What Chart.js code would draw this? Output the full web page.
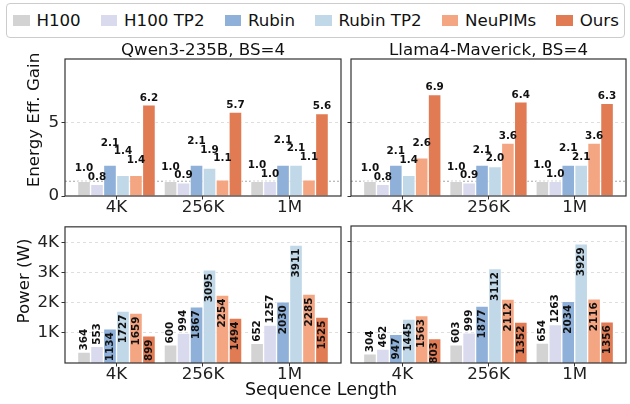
<!DOCTYPE html>
<html>
<head>
<meta charset="utf-8">
<script src="https://cdn.jsdelivr.net/npm/chart.js@4.4.1/dist/chart.umd.min.js"></script>
<style>
  html, body { margin: 0; padding: 0; background: #fff; }
  #fig { position: relative; width: 630px; height: 404px; overflow: hidden; font-family: 'DejaVu Sans', sans-serif; color: #111; }
  #fig canvas { position: absolute; }
  #legend {
    position: absolute; left: 6px; top: 3px; width: 619px; height: 35px;
    box-sizing: border-box; border: 1px solid #cccccc; border-radius: 4px;
    display: flex; align-items: center; padding-left: 6px;
  }
  .item { display: flex; align-items: center; margin-right: 20px; font-size: 16.67px; white-space: nowrap; }
  .swatch { width: 16.7px; height: 11.7px; margin-right: 6.7px; }
  #xlabel { position: absolute; left: 321px; top: 379px; transform: translateX(-50%); font-size: 17.5px; line-height: 21px; white-space: nowrap; }
</style>
</head>
<body>
<div id="fig">
  <div id="legend"></div>
  <canvas id="cTL" width="345" height="186" style="left:0;top:40px"></canvas>
  <canvas id="cTR" width="289" height="186" style="left:341px;top:40px"></canvas>
  <canvas id="cBL" width="345" height="188" style="left:0;top:216px"></canvas>
  <canvas id="cBR" width="289" height="188" style="left:341px;top:216px"></canvas>
  <div id="xlabel">Sequence Length</div>
</div>
<script>
// Categories and series
const categories = ['4K', '256K', '1M'];
const seriesNames = ['H100', 'H100 TP2', 'Rubin', 'Rubin TP2', 'NeuPIMs', 'Ours'];

// Energy efficiency gain, one row per series (same order as seriesNames)
const qwenGain = [
    [1.0, 1.0, 1.0],
    [0.8, 0.9, 1.0],
    [2.1, 2.1, 2.1],
    [1.4, 1.9, 2.1],
    [1.4, 1.1, 1.1],
    [6.2, 5.7, 5.6]
];
const llamaGain = [
    [1.0, 1.0, 1.0],
    [0.8, 0.9, 1.0],
    [2.1, 2.1, 2.1],
    [1.4, 2.0, 2.1],
    [2.6, 3.6, 3.6],
    [6.9, 6.4, 6.3]
];

// Power (W), one row per series
const qwenPower = [
    [364, 600, 652],
    [553, 994, 1257],
    [1134, 1867, 2030],
    [1727, 3095, 3911],
    [1659, 2254, 2285],
    [899, 1494, 1525]
];
const llamaPower = [
    [304, 603, 654],
    [462, 999, 1263],
    [947, 1877, 2034],
    [1445, 3112, 3929],
    [1563, 2112, 2116],
    [803, 1352, 1356]
];

// Tick values
const gainTicks = [0, 5];
const powerTicks = [1000, 2000, 3000, 4000];

// Styles
const seriesColors = ['#d3d3d3', '#dadaef', '#8fb0d8', '#c1d8e9', '#f4a683', '#e07b54'];
const barWidth = 0.15;
const FONT = 'DejaVu Sans';
const TICK_FONT = { family: FONT, size: 16.67, lineHeight: 1 };

Chart.defaults.font.family = FONT;

// Legend
const legend = document.getElementById('legend');
seriesNames.forEach((name, k) => {
    const item = document.createElement('div');
    item.className = 'item';
    item.innerHTML = `<span class="swatch" style="background:${seriesColors[k]}"></span>${name}`;
    legend.appendChild(item);
});

// Frame, reference line, titles
const decorPlugin = {
    id: 'decor',
    beforeDatasetsDraw(chart, args, opts) {
        if (opts.refLine == null) return;
        const { ctx, chartArea: a } = chart;
        const py = chart.scales.y.getPixelForValue(opts.refLine);
        ctx.save();
        ctx.strokeStyle = '#b5b5b5';
        ctx.lineWidth = 1.2;
        ctx.setLineDash([2, 2]);
        ctx.beginPath();
        ctx.moveTo(a.left, py);
        ctx.lineTo(a.right, py);
        ctx.stroke();
        ctx.restore();
    },
    afterDraw(chart, args, opts) {
        const { ctx, chartArea: a } = chart;
        ctx.save();
        ctx.strokeStyle = '#333';
        ctx.lineWidth = 1.2;
        ctx.strokeRect(a.left, a.top, a.right - a.left, a.bottom - a.top);
        ctx.fillStyle = '#111';
        ctx.font = `16.67px "${FONT}"`;
        if (opts.title) {
            ctx.textAlign = 'center';
            ctx.textBaseline = 'alphabetic';
            ctx.fillText(opts.title, (a.left + a.right) / 2, a.top - 4);
        }
        if (opts.yTitle) {
            ctx.translate(opts.yTitleX, opts.yTitleY);
            ctx.rotate(-Math.PI / 2);
            ctx.textAlign = 'center';
            ctx.textBaseline = 'middle';
            ctx.fillText(opts.yTitle, 0, 0);
        }
        ctx.restore();
    }
};

// Value labels on bars
const barLabelPlugin = {
    id: 'barLabels',
    afterDatasetsDraw(chart, args, opts) {
        const { ctx } = chart;
        ctx.save();
        ctx.font = `bold 10.4px "${FONT}"`;
        ctx.fillStyle = '#111';
        categories.forEach((c, i) => {
            const bars = chart.data.datasets.map((ds, k) => ({
                k, v: ds.data[i].y, el: chart.getDatasetMeta(k).data[i]
            }));
            if (opts.mode === 'gain') {
                // stack labels from the lowest bar up so they do not collide
                const order = bars.slice().sort((p, q) => p.v - q.v || q.k - p.k);
                let prev = Infinity;
                order.forEach(b => {
                    const cy = Math.min(b.el.y - 7, prev - 8.5);
                    prev = cy;
                    ctx.textAlign = 'center';
                    ctx.textBaseline = 'middle';
                    ctx.fillText(b.v.toFixed(1), b.el.x, cy);
                });
            } else {
                bars.forEach(b => {
                    const outside = b.k < 2;
                    ctx.save();
                    ctx.translate(b.el.x, b.el.y + (outside ? -1.5 : 3.5));
                    ctx.rotate(-Math.PI / 2);
                    ctx.textAlign = outside ? 'left' : 'right';
                    ctx.textBaseline = 'middle';
                    ctx.fillText(String(b.v), 0, 0);
                    ctx.restore();
                });
            }
        });
        ctx.restore();
    }
};

function buildChart(canvasId, rows, cfg) {
    const datasets = seriesNames.map((name, k) => ({
        label: name,
        data: categories.map((c, i) => ({ x: i + (k - 2.5) * barWidth, y: rows[k][i] })),
        backgroundColor: seriesColors[k],
        borderColor: 'rgba(255,255,255,0.7)',
        borderWidth: 1,
        grouped: false,
        barPercentage: 1,
        categoryPercentage: 1
    }));

    return new Chart(document.getElementById(canvasId), {
        type: 'bar',
        data: { datasets },
        plugins: [decorPlugin, barLabelPlugin],
        options: {
            responsive: false,
            animation: false,
            devicePixelRatio: 1,
            layout: { padding: { top: cfg.padTop, right: 4, left: 0, bottom: 0 } },
            plugins: {
                legend: { display: false },
                tooltip: { enabled: false },
                decor: { title: cfg.title, yTitle: cfg.yTitle, yTitleX: cfg.yTitleX, yTitleY: cfg.yTitleY, refLine: cfg.refLine },
                barLabels: { mode: cfg.mode }
            },
            scales: {
                x: {
                    type: 'linear',
                    min: -0.595,
                    max: 2.595,
                    offset: false,
                    bounds: 'data',
                    afterBuildTicks: s => { s.ticks = categories.map((c, i) => ({ value: i })); },
                    afterFit: s => { s.height = cfg.xHeight; },
                    ticks: {
                        autoSkip: false, maxRotation: 0, padding: 0,
                        color: '#222', font: TICK_FONT,
                        callback: v => categories[v]
                    },
                    grid: { drawOnChartArea: false, offset: false, tickLength: 3.5, tickColor: '#333', tickWidth: 1 },
                    border: { display: false }
                },
                y: {
                    min: 0,
                    max: cfg.yMax,
                    afterBuildTicks: s => { s.ticks = cfg.yTicks.map(v => ({ value: v })); },
                    afterFit: s => { s.width = cfg.yWidth; },
                    ticks: {
                        display: cfg.showYLabels, padding: 2.5,
                        color: '#222', font: TICK_FONT,
                        callback: cfg.yFormat
                    },
                    grid: {
                        color: c => (c.tick && c.tick.value === 0) ? 'rgba(0,0,0,0)' : '#dedede',
                        lineWidth: 1,
                        tickLength: 3.5, tickColor: '#333', tickWidth: 1
                    },
                    border: { display: false, dash: [3, 3] }
                }
            }
        }
    });
}

const gainMax = Math.max(...qwenGain.flat(), ...llamaGain.flat()) * 1.35;
const powerMax = Math.max(...qwenPower.flat(), ...llamaPower.flat()) * 1.15;

const gainCfg = { mode: 'gain', padTop: 19, xHeight: 30, yMax: gainMax, yTicks: gainTicks, refLine: 1, yFormat: v => String(v) };
const powerCfg = { mode: 'power', padTop: 10, xHeight: 41, yMax: powerMax, yTicks: powerTicks, refLine: null, yFormat: v => (v / 1000) + 'K' };

buildChart('cTL', qwenGain, { ...gainCfg, title: 'Qwen3-235B, BS=4', yTitle: 'Energy Eff. Gain', yTitleX: 34.6, yTitleY: 80, yWidth: 65, showYLabels: true });
buildChart('cTR', llamaGain, { ...gainCfg, title: 'Llama4-Maverick, BS=4', yWidth: 10, showYLabels: false });
buildChart('cBL', qwenPower, { ...powerCfg, yTitle: 'Power (W)', yTitleX: 25, yTitleY: 65, yWidth: 65, showYLabels: true });
buildChart('cBR', llamaPower, { ...powerCfg, yWidth: 10, showYLabels: false });
</script>
</body>
</html>
